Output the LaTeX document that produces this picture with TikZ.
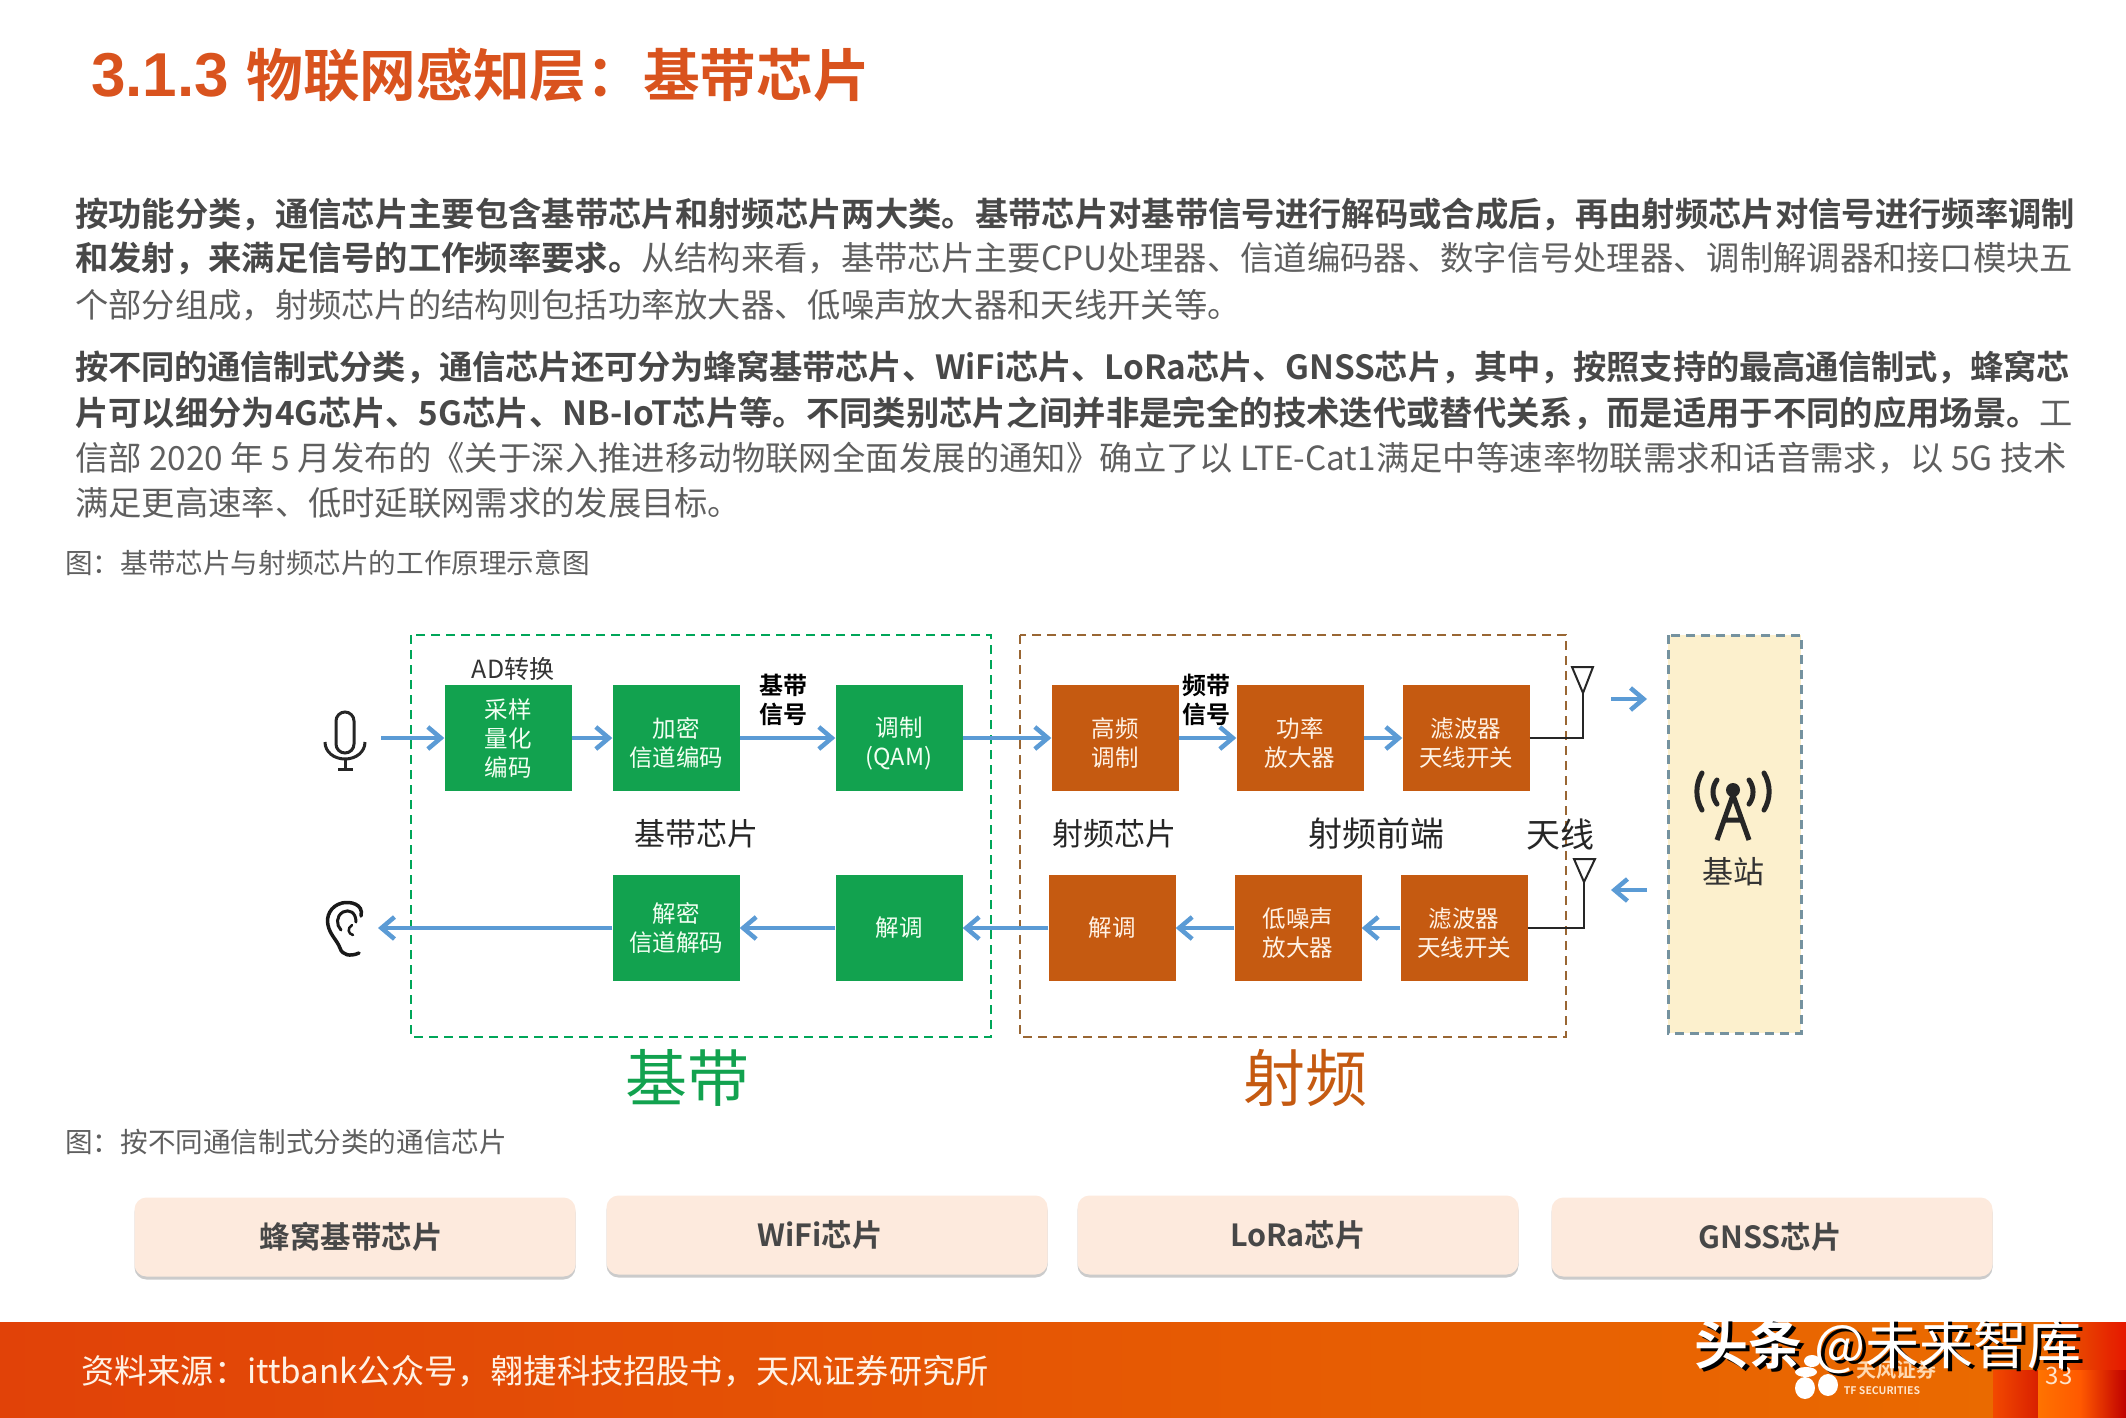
\documentclass[tikz,border=0pt]{standalone}
\usepackage{fontspec}
\setmainfont[BoldFont=Noto Sans CJK SC Bold]{Noto Sans CJK SC}
\newfontfamily\latinfont{Liberation Sans}
\XeTeXlinebreaklocale "zh"
\XeTeXlinebreakskip=0pt plus 4pt minus 1pt
\usetikzlibrary{arrows.meta,shadows}
\definecolor{titlered}{HTML}{D9531E}
\definecolor{bodygray}{HTML}{5F5F5F}
\definecolor{bolddark}{HTML}{484848}
\definecolor{chipgreen}{HTML}{12A24F}
\definecolor{chiporange}{HTML}{C55A11}
\definecolor{flowblue}{HTML}{5B9BD5}
\definecolor{cardfill}{HTML}{FDEADD}
\definecolor{stationfill}{HTML}{FCF0CD}
\definecolor{footleft}{HTML}{E14208}
\definecolor{footright}{HTML}{EA6A00}
\newcommand{\fullline}[2][1998pt]{\parbox{#1}{\parfillskip=0pt #2\par}}
\newcommand{\boldpart}[1]{\textbf{\color{bolddark}#1}}
\newcommand{\lowline}{\rule{0pt}{30pt}}
\tikzset{
  bodyline/.style={anchor=west, inner sep=0pt, text=bodygray, font=\fontsize{33.3}{40}\selectfont},
  capline/.style={anchor=west, inner sep=0pt, text=bodygray, font=\fontsize{27.6}{33}\selectfont},
  chipbox/.style={minimum width=127pt, minimum height=106pt, inner sep=0pt, align=center, font=\fontsize{23.5}{29}\selectfont},
  bandbox/.style={chipbox, fill=chipgreen, text=green!5},
  rfbox/.style={chipbox, fill=chiporange, text=orange!10},
  flow/.style={draw=flowblue, line width=4.5pt, -{Straight Barb[length=13pt,width=22pt,line width=4.5pt]}},
  note/.style={inner sep=0pt, align=center, text=black!85, font=\fontsize{31}{36}\selectfont},
  signote/.style={inner sep=0pt, align=center, font=\bfseries\fontsize{24}{29}\selectfont},
  card/.style={minimum width=441pt, minimum height=79pt, rounded corners=12pt, fill=cardfill, inner sep=0pt,
    text=black!72, font=\bfseries\fontsize{30.5}{36}\selectfont, drop shadow={shadow xshift=0pt,shadow yshift=-3pt,fill=black!40}},
}
\begin{document}
\begin{tikzpicture}[x=1pt,y=-1pt]
    \useasboundingbox (0,0) rectangle (2126,1417);
    \fill[white] (0,0) rectangle (2126,1417);

    \node[anchor=west, inner sep=0pt, text=titlered, font=\bfseries\fontsize{56.7}{60}\selectfont] (title) at (91,75) {{\latinfont\fontsize{62}{64}\selectfont 3.1.3 }物联网感知层：基带芯片};

    \node[bodyline] (p1a) at (75,214) {\fullline[2000pt]{\boldpart{按功能分类，通信芯片主要包含基带芯片和射频芯片两大类。基带芯片对基带信号进行解码或合成后，再由射频芯片对信号进行频率调制}}};
    \node[bodyline] (p1b) at (75,259) {\fullline{\boldpart{和发射，来满足信号的工作频率要求。}从结构来看，基带芯片主要CPU处理器、信道编码器、数字信号处理器、调制解调器和接口模块五}};
    \node[bodyline] (p1c) at (75,305) {个部分组成，射频芯片的结构则包括功率放大器、低噪声放大器和天线开关等。};
    \node[bodyline] (p2a) at (75,367) {\fullline[1995pt]{\boldpart{按不同的通信制式分类，通信芯片还可分为蜂窝基带芯片、WiFi芯片、LoRa芯片、GNSS芯片，其中，按照支持的最高通信制式，蜂窝芯}}};
    \node[bodyline] (p2b) at (75,413) {\fullline{\boldpart{片可以细分为4G芯片、5G芯片、NB-IoT芯片等。不同类别芯片之间并非是完全的技术迭代或替代关系，而是适用于不同的应用场景。}工}};
    \node[bodyline] (p2c) at (75,458) {\fullline[1992pt]{信部 2020 年 5 月发布的《关于深入推进移动物联网全面发展的通知》确立了以 LTE-Cat1满足中等速率物联需求和话音需求，以 5G 技术}};
    \node[bodyline] (p2d) at (75,503) {满足更高速率、低时延联网需求的发展目标。};
    \node[capline] (cap1) at (65,563) {图：基带芯片与射频芯片的工作原理示意图};
    \node[capline] (cap2) at (65,1142) {图：按不同通信制式分类的通信芯片};

    % frames
    \draw[line width=2pt, draw=teal!70!green, dash pattern=on 9pt off 6pt] (411,635) rectangle (991,1037);
    \draw[line width=2pt, draw=brown!80!black, dash pattern=on 9pt off 6pt] (1020,635) rectangle (1566,1037);
    \draw[fill=stationfill, line width=3pt, draw=black!30!cyan!40!gray, dash pattern=on 9pt off 6pt] (1668,635) rectangle (1801,1033);

    % chip boxes
    \foreach \name/\x/\y/\txt in {sample/508/738/{采样\\量化\\编码}, encrypt/676/738/{\lowline 加密\\信道编码}, qam/899/738/{\lowline 调制\\(QAM)},
      decrypt/676/928/{解密\\信道解码}, bbdemod/899/928/{解调}} {
      \node[bandbox] (\name) at (\x,\y) {\txt};
    }
    \foreach \name/\x/\y/\txt in {hfmod/1115/738/{\lowline 高频\\调制}, pa/1300/738/{\lowline 功率\\放大器}, txfilter/1466/738/{\lowline 滤波器\\天线开关},
      rfdemod/1112/928/{解调}, lna/1298/928/{\lowline 低噪声\\放大器}, rxfilter/1464/928/{\lowline 滤波器\\天线开关}} {
      \node[rfbox] (\name) at (\x,\y) {\txt};
    }

    % free ends
    \coordinate (micout) at (381,738);
    \coordinate (earin) at (378,928);
    \coordinate (txfrom) at (1611,699);
    \coordinate (txto) at (1647,699);
    \coordinate (rxfrom) at (1647,890);
    \coordinate (rxto) at (1611,890);
    \coordinate (txant) at (1583,693);
    \coordinate (rxant) at (1584,882);

    \draw[flow] (micout) -- (sample);
    \draw[flow] (sample) -- (encrypt);
    \draw[flow] (encrypt) -- (qam);
    \draw[flow] (qam) -- (hfmod);
    \draw[flow] (hfmod) -- (pa);
    \draw[flow] (pa) -- (txfilter);
    \draw[flow] (txfrom) -- (txto);
    \draw[flow] (rxfrom) -- (rxto);
    \draw[flow] (rxfilter) -- (lna);
    \draw[flow] (lna) -- (rfdemod);
    \draw[flow] (rfdemod) -- (bbdemod);
    \draw[flow] (bbdemod) -- (decrypt);
    \draw[flow] (decrypt) -- (earin);

    % antennas
    \draw[line width=2.5pt, black!85] (txfilter.east) -| (txant);
    \draw[line width=2pt, black!85] (txant) -- (1572,667) -- (1593,667) -- cycle;
    \draw[line width=2.5pt, black!85] (rxfilter.east) -| (rxant);
    \draw[line width=2pt, black!85] (rxant) -- (1574,859) -- (1595,859) -- cycle;

    % labels
    \node[inner sep=0pt, text=black!80, font=\fontsize{25}{28}\selectfont] (adlabel) at (513,669) {AD转换};
    \node[signote] (bblabel) at (783,700) {基带\\信号};
    \node[signote] (rflabel) at (1206,700) {频带\\信号};
    \node[note] (bbchip) at (696,834) {基带芯片};
    \node[note] (rfchip) at (1114,834) {射频芯片};
    \node[note, font=\fontsize{34}{38}\selectfont] (rffront) at (1376,834) {射频前端};
    \node[note, font=\fontsize{34}{38}\selectfont] (antlabel) at (1560,834) {天线};
    \node[inner sep=0pt, text=chipgreen, font=\fontsize{62}{66}\selectfont] (bbbig) at (687,1078) {基带};
    \node[inner sep=0pt, text=chiporange, font=\fontsize{62}{66}\selectfont] (rfbig) at (1305,1078) {射频};
    \node[inner sep=0pt, text=black!80, font=\fontsize{31}{34}\selectfont] (station) at (1733,872) {基站};

    % microphone
    \draw[line width=3pt, black!85, rounded corners=9pt] (336,712) rectangle (354,753);
    \draw[line width=3pt, black!85] (325,742) .. controls (325,752) and (334,759) .. (345,759) .. controls (356,759) and (365,752) .. (365,742);
    \draw[line width=3pt, black!85] (345,759) -- (345,769) (338,769) -- (353,769);

    % ear
    \draw[line width=3.5pt, black!90, line cap=round] (361,916) .. controls (364,904) and (350,901) .. (342,903)
      .. controls (330,906) and (326,917) .. (328,925) .. controls (330,935) and (337,940) .. (340,948)
      .. controls (342,955) and (350,957) .. (359,953);
    \draw[line width=3pt, black!90, line cap=round] (356,922) .. controls (356,912) and (349,909) .. (343,912)
      .. controls (336,916) and (336,925) .. (341,930);
    \draw[line width=2.5pt, black!90, line cap=round] (352,925) .. controls (347,928) and (348,934) .. (353,935);

    % tower
    \fill[black!85] (1733,790) circle (7pt);
    \draw[line width=5pt, black!85] (1717,840) -- (1733,795) -- (1749,840) (1724,820) -- (1742,820);
    \draw[line width=5pt, black!85, line cap=round] (1717,780) arc[start angle=143, end angle=217, radius=20pt];
    \draw[line width=5pt, black!85, line cap=round] (1749,780) arc[start angle=37, end angle=-37, radius=20pt];
    \draw[line width=5pt, black!85, line cap=round] (1702,773) arc[start angle=149, end angle=211, radius=36pt];
    \draw[line width=5pt, black!85, line cap=round] (1764,773) arc[start angle=31, end angle=-31, radius=36pt];

    % cards
    \node[card] (cellular) at (355,1237) {蜂窝基带芯片\hspace*{8pt}};
    \node[card] (wifi) at (827,1235) {WiFi芯片\hspace*{14pt}};
    \node[card] (lora) at (1298,1235) {LoRa芯片};
    \node[card] (gnss) at (1772,1237) {GNSS芯片\hspace*{4pt}};

    % footer
    \shade[left color=footleft, right color=footright] (0,1322) rectangle (1993,1417);
    \fill[footright] (1993,1322) rectangle (2040,1370);
    \shade[left color=footright, right color=red!80!orange!90!black] (2040,1322) rectangle (2126,1370);
    \shade[left color=orange!60!red!95!black, right color=red!70!orange!85!black] (1993,1370) rectangle (2038,1417);
    \shade[left color=orange!90!red, right color=orange!70!red] (2038,1370) rectangle (2080,1417);
    \shade[left color=orange!70!red, right color=red!75!black] (2080,1370) rectangle (2126,1417);
    \node[anchor=west, inner sep=0pt, text=orange!10, font=\fontsize{33.2}{38}\selectfont] (source) at (81,1371) {资料来源：ittbank公众号，翱捷科技招股书，天风证券研究所};
    \foreach \px/\py/\rx/\ry in {1805/1388/10/11, 1828/1385/10/11, 1806/1372/11/5, 1812/1361/8/6} {
      \fill[white] (\px,\py) ellipse (\rx pt and \ry pt);
    }
    \node[inner sep=0pt, text=orange!30, font=\bfseries\fontsize{20}{22}\selectfont] (logo) at (1896,1370) {天风证券};
    \node[inner sep=0pt, text=orange!20, font=\bfseries\fontsize{10.5}{12}\selectfont] (logoen) at (1882,1391) {TF SECURITIES};
    \node[inner sep=0pt, text=orange!20, font=\fontsize{24}{28}\selectfont] (page) at (2059,1376) {33};
    \node[inner sep=0pt, text=black, font=\fontsize{54}{58}\selectfont] (markshadow) at (1892,1349) {{\bfseries 头条} @未来智库};
    \node[inner sep=0pt, text=white, font=\fontsize{54}{58}\selectfont] (mark) at (1888,1346) {{\bfseries 头条} @未来智库};
\end{tikzpicture}
\end{document}
